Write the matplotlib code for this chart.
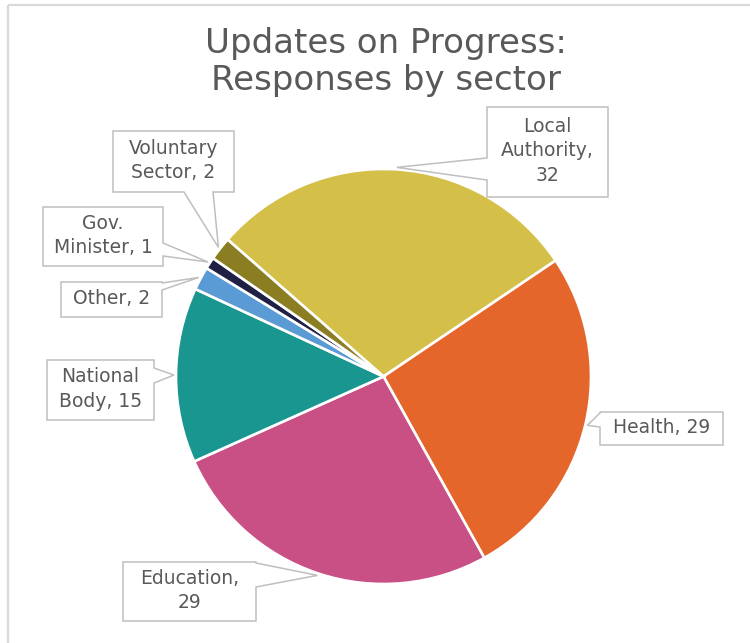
import numpy as np
import matplotlib
matplotlib.use("Agg")
import matplotlib.pyplot as plt
from matplotlib.patches import Polygon

plt.rcParams["font.family"] = ["DejaVu Sans"]

# sectors in clockwise order, starting from the top-left
sectors = ["Local Authority", "Health", "Education", "National Body",
           "Other", "Gov. Minister", "Voluntary Sector"]
responses = [32, 29, 29, 15, 2, 1, 2]
colours = ["#D4BF48", "#E5662A", "#C95084", "#1A9690", "#5B9BD5",
           "#202045", "#8B7D22"]

W, H = 750, 643
TEXT = "#595959"
EDGE = "#BFBFBF"

fig = plt.figure(figsize=(W / 100, H / 100), dpi=100)
ax = fig.add_axes([0, 0, 1, 1])

wedges, _ = ax.pie(responses, colors=colours, startangle=138.7,
                   counterclock=False, center=(383.5, H - 376.5), radius=207.5,
                   wedgeprops=dict(edgecolor="white", linewidth=1.9))
ax.set_xlim(0, W)
ax.set_ylim(0, H)
ax.set_aspect("equal")
ax.axis("off")

# chart frame (top and left edges only)
ax.plot([8, W], [H - 4.5, H - 4.5], color="#D9D9D9", lw=1.6, solid_capstyle="butt")
ax.plot([8, 8], [H - 4.5, 0], color="#D9D9D9", lw=1.6, solid_capstyle="butt")

ax.text(386, H - 62, "Updates on Progress:\nResponses by sector", ha="center",
        va="center", fontsize=24.5, color=TEXT, linespacing=1.15)

# callout boxes: (left, top, right, bottom), side of the tail, tail attach points,
# and how the label wraps
callouts = [
    ((487, 107, 608, 197), "left", (158, 180), "Local\nAuthority,\n{n}"),
    ((600, 412, 723, 445), "left", (413, 427), "Health, {n}"),
    ((123, 562, 256, 621), "right", (563, 587), "Education,\n{n}"),
    ((47, 360, 154, 420), "right", (368, 383), "National\nBody, {n}"),
    ((61, 282, 162, 317), "right", (283, 290), "Other, {n}"),
    ((43, 207, 163, 266), "right", (243, 256), "Gov.\nMinister, {n}"),
    ((113, 131, 234, 192), "bottom", (184, 213), "Voluntary\nSector, {n}"),
]


def tail_tip(w, k=1.01):
    mid = np.deg2rad((w.theta1 + w.theta2) / 2)
    cx, cy = w.center
    return cx + w.r * k * np.cos(mid), cy + w.r * k * np.sin(mid)


for w, name, n, (box, side, att, fmt) in zip(wedges, sectors, responses, callouts):
    x0, t, x1, b = box
    y0, y1 = H - b, H - t
    tip = tail_tip(w)
    a, c = att
    if side == "left":
        pts = [(x0, y1), (x0, H - a), tip, (x0, H - c), (x0, y0), (x1, y0), (x1, y1)]
    elif side == "right":
        pts = [(x0, y1), (x0, y0), (x1, y0), (x1, H - c), tip, (x1, H - a), (x1, y1)]
    else:
        pts = [(x0, y1), (x0, y0), (a, y0), tip, (c, y0), (x1, y0), (x1, y1)]
    ax.add_patch(Polygon(pts, closed=True, facecolor="white", edgecolor=EDGE,
                         lw=1.1, zorder=3))
    ax.text((x0 + x1) / 2, (y0 + y1) / 2 + 1, fmt.format(n=n), ha="center",
            va="center", fontsize=13.5, color=TEXT, linespacing=1.35, zorder=4)

fig.savefig("out.png", dpi=100)
